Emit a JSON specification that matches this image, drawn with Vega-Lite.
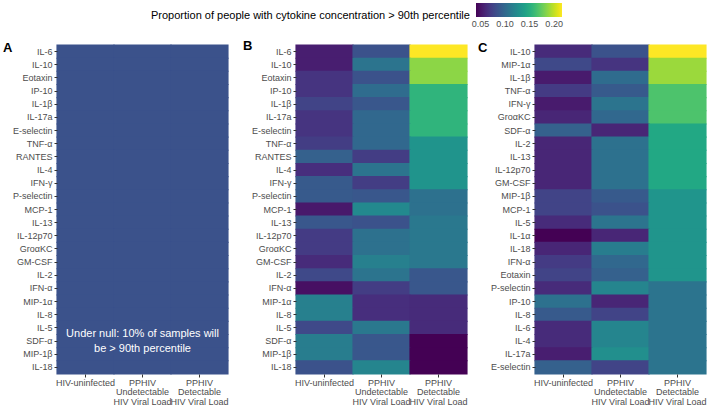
{
  "$schema": "https://vega.github.io/schema/vega-lite/v6.json",
  "padding": {"left": 3, "top": 3, "right": 1, "bottom": 0},
  "bounds": "flush",
  "spacing": 68,
  "background": "white",
  "config": {
    "font": "Liberation Sans",
    "view": {"stroke": null},
    "axis": {"labelFont": "Liberation Sans", "labelFontSize": 9, "labelColor": "#4d4d4d", "tickColor": "#333333", "tickSize": 3, "domain": false, "grid": false, "labelPadding": 2, "title": null}
  },
  "datasets": {
    "A": [
      {"cytokine": "IL-6", "group": "HIV-uninfected", "p": 0.1}, {"cytokine": "IL-6", "group": "PPHIV Undetectable HIV Viral Load", "p": 0.1}, {"cytokine": "IL-6", "group": "PPHIV Detectable HIV Viral Load", "p": 0.1},
      {"cytokine": "IL-10", "group": "HIV-uninfected", "p": 0.1}, {"cytokine": "IL-10", "group": "PPHIV Undetectable HIV Viral Load", "p": 0.1}, {"cytokine": "IL-10", "group": "PPHIV Detectable HIV Viral Load", "p": 0.1},
      {"cytokine": "Eotaxin", "group": "HIV-uninfected", "p": 0.1}, {"cytokine": "Eotaxin", "group": "PPHIV Undetectable HIV Viral Load", "p": 0.1}, {"cytokine": "Eotaxin", "group": "PPHIV Detectable HIV Viral Load", "p": 0.1},
      {"cytokine": "IP-10", "group": "HIV-uninfected", "p": 0.1}, {"cytokine": "IP-10", "group": "PPHIV Undetectable HIV Viral Load", "p": 0.1}, {"cytokine": "IP-10", "group": "PPHIV Detectable HIV Viral Load", "p": 0.1},
      {"cytokine": "IL-1β", "group": "HIV-uninfected", "p": 0.1}, {"cytokine": "IL-1β", "group": "PPHIV Undetectable HIV Viral Load", "p": 0.1}, {"cytokine": "IL-1β", "group": "PPHIV Detectable HIV Viral Load", "p": 0.1},
      {"cytokine": "IL-17a", "group": "HIV-uninfected", "p": 0.1}, {"cytokine": "IL-17a", "group": "PPHIV Undetectable HIV Viral Load", "p": 0.1}, {"cytokine": "IL-17a", "group": "PPHIV Detectable HIV Viral Load", "p": 0.1},
      {"cytokine": "E-selectin", "group": "HIV-uninfected", "p": 0.1}, {"cytokine": "E-selectin", "group": "PPHIV Undetectable HIV Viral Load", "p": 0.1}, {"cytokine": "E-selectin", "group": "PPHIV Detectable HIV Viral Load", "p": 0.1},
      {"cytokine": "TNF-α", "group": "HIV-uninfected", "p": 0.1}, {"cytokine": "TNF-α", "group": "PPHIV Undetectable HIV Viral Load", "p": 0.1}, {"cytokine": "TNF-α", "group": "PPHIV Detectable HIV Viral Load", "p": 0.1},
      {"cytokine": "RANTES", "group": "HIV-uninfected", "p": 0.1}, {"cytokine": "RANTES", "group": "PPHIV Undetectable HIV Viral Load", "p": 0.1}, {"cytokine": "RANTES", "group": "PPHIV Detectable HIV Viral Load", "p": 0.1},
      {"cytokine": "IL-4", "group": "HIV-uninfected", "p": 0.1}, {"cytokine": "IL-4", "group": "PPHIV Undetectable HIV Viral Load", "p": 0.1}, {"cytokine": "IL-4", "group": "PPHIV Detectable HIV Viral Load", "p": 0.1},
      {"cytokine": "IFN-γ", "group": "HIV-uninfected", "p": 0.1}, {"cytokine": "IFN-γ", "group": "PPHIV Undetectable HIV Viral Load", "p": 0.1}, {"cytokine": "IFN-γ", "group": "PPHIV Detectable HIV Viral Load", "p": 0.1},
      {"cytokine": "P-selectin", "group": "HIV-uninfected", "p": 0.1}, {"cytokine": "P-selectin", "group": "PPHIV Undetectable HIV Viral Load", "p": 0.1}, {"cytokine": "P-selectin", "group": "PPHIV Detectable HIV Viral Load", "p": 0.1},
      {"cytokine": "MCP-1", "group": "HIV-uninfected", "p": 0.1}, {"cytokine": "MCP-1", "group": "PPHIV Undetectable HIV Viral Load", "p": 0.1}, {"cytokine": "MCP-1", "group": "PPHIV Detectable HIV Viral Load", "p": 0.1},
      {"cytokine": "IL-13", "group": "HIV-uninfected", "p": 0.1}, {"cytokine": "IL-13", "group": "PPHIV Undetectable HIV Viral Load", "p": 0.1}, {"cytokine": "IL-13", "group": "PPHIV Detectable HIV Viral Load", "p": 0.1},
      {"cytokine": "IL-12p70", "group": "HIV-uninfected", "p": 0.1}, {"cytokine": "IL-12p70", "group": "PPHIV Undetectable HIV Viral Load", "p": 0.1}, {"cytokine": "IL-12p70", "group": "PPHIV Detectable HIV Viral Load", "p": 0.1},
      {"cytokine": "GroαKC", "group": "HIV-uninfected", "p": 0.1}, {"cytokine": "GroαKC", "group": "PPHIV Undetectable HIV Viral Load", "p": 0.1}, {"cytokine": "GroαKC", "group": "PPHIV Detectable HIV Viral Load", "p": 0.1},
      {"cytokine": "GM-CSF", "group": "HIV-uninfected", "p": 0.1}, {"cytokine": "GM-CSF", "group": "PPHIV Undetectable HIV Viral Load", "p": 0.1}, {"cytokine": "GM-CSF", "group": "PPHIV Detectable HIV Viral Load", "p": 0.1},
      {"cytokine": "IL-2", "group": "HIV-uninfected", "p": 0.1}, {"cytokine": "IL-2", "group": "PPHIV Undetectable HIV Viral Load", "p": 0.1}, {"cytokine": "IL-2", "group": "PPHIV Detectable HIV Viral Load", "p": 0.1},
      {"cytokine": "IFN-α", "group": "HIV-uninfected", "p": 0.1}, {"cytokine": "IFN-α", "group": "PPHIV Undetectable HIV Viral Load", "p": 0.1}, {"cytokine": "IFN-α", "group": "PPHIV Detectable HIV Viral Load", "p": 0.1},
      {"cytokine": "MIP-1α", "group": "HIV-uninfected", "p": 0.1}, {"cytokine": "MIP-1α", "group": "PPHIV Undetectable HIV Viral Load", "p": 0.1}, {"cytokine": "MIP-1α", "group": "PPHIV Detectable HIV Viral Load", "p": 0.1},
      {"cytokine": "IL-8", "group": "HIV-uninfected", "p": 0.1}, {"cytokine": "IL-8", "group": "PPHIV Undetectable HIV Viral Load", "p": 0.1}, {"cytokine": "IL-8", "group": "PPHIV Detectable HIV Viral Load", "p": 0.1},
      {"cytokine": "IL-5", "group": "HIV-uninfected", "p": 0.1}, {"cytokine": "IL-5", "group": "PPHIV Undetectable HIV Viral Load", "p": 0.1}, {"cytokine": "IL-5", "group": "PPHIV Detectable HIV Viral Load", "p": 0.1},
      {"cytokine": "SDF-α", "group": "HIV-uninfected", "p": 0.1}, {"cytokine": "SDF-α", "group": "PPHIV Undetectable HIV Viral Load", "p": 0.1}, {"cytokine": "SDF-α", "group": "PPHIV Detectable HIV Viral Load", "p": 0.1},
      {"cytokine": "MIP-1β", "group": "HIV-uninfected", "p": 0.1}, {"cytokine": "MIP-1β", "group": "PPHIV Undetectable HIV Viral Load", "p": 0.1}, {"cytokine": "MIP-1β", "group": "PPHIV Detectable HIV Viral Load", "p": 0.1},
      {"cytokine": "IL-18", "group": "HIV-uninfected", "p": 0.1}, {"cytokine": "IL-18", "group": "PPHIV Undetectable HIV Viral Load", "p": 0.1}, {"cytokine": "IL-18", "group": "PPHIV Detectable HIV Viral Load", "p": 0.1}
    ],
    "B": [
      {"cytokine": "IL-6", "group": "HIV-uninfected", "p": 0.055}, {"cytokine": "IL-6", "group": "PPHIV Undetectable HIV Viral Load", "p": 0.085}, {"cytokine": "IL-6", "group": "PPHIV Detectable HIV Viral Load", "p": 0.216},
      {"cytokine": "IL-10", "group": "HIV-uninfected", "p": 0.055}, {"cytokine": "IL-10", "group": "PPHIV Undetectable HIV Viral Load", "p": 0.108}, {"cytokine": "IL-10", "group": "PPHIV Detectable HIV Viral Load", "p": 0.186},
      {"cytokine": "Eotaxin", "group": "HIV-uninfected", "p": 0.067}, {"cytokine": "Eotaxin", "group": "PPHIV Undetectable HIV Viral Load", "p": 0.085}, {"cytokine": "Eotaxin", "group": "PPHIV Detectable HIV Viral Load", "p": 0.186},
      {"cytokine": "IP-10", "group": "HIV-uninfected", "p": 0.067}, {"cytokine": "IP-10", "group": "PPHIV Undetectable HIV Viral Load", "p": 0.102}, {"cytokine": "IP-10", "group": "PPHIV Detectable HIV Viral Load", "p": 0.155},
      {"cytokine": "IL-1β", "group": "HIV-uninfected", "p": 0.076}, {"cytokine": "IL-1β", "group": "PPHIV Undetectable HIV Viral Load", "p": 0.088}, {"cytokine": "IL-1β", "group": "PPHIV Detectable HIV Viral Load", "p": 0.155},
      {"cytokine": "IL-17a", "group": "HIV-uninfected", "p": 0.067}, {"cytokine": "IL-17a", "group": "PPHIV Undetectable HIV Viral Load", "p": 0.099}, {"cytokine": "IL-17a", "group": "PPHIV Detectable HIV Viral Load", "p": 0.155},
      {"cytokine": "E-selectin", "group": "HIV-uninfected", "p": 0.067}, {"cytokine": "E-selectin", "group": "PPHIV Undetectable HIV Viral Load", "p": 0.099}, {"cytokine": "E-selectin", "group": "PPHIV Detectable HIV Viral Load", "p": 0.155},
      {"cytokine": "TNF-α", "group": "HIV-uninfected", "p": 0.072}, {"cytokine": "TNF-α", "group": "PPHIV Undetectable HIV Viral Load", "p": 0.099}, {"cytokine": "TNF-α", "group": "PPHIV Detectable HIV Viral Load", "p": 0.131},
      {"cytokine": "RANTES", "group": "HIV-uninfected", "p": 0.094}, {"cytokine": "RANTES", "group": "PPHIV Undetectable HIV Viral Load", "p": 0.072}, {"cytokine": "RANTES", "group": "PPHIV Detectable HIV Viral Load", "p": 0.131},
      {"cytokine": "IL-4", "group": "HIV-uninfected", "p": 0.064}, {"cytokine": "IL-4", "group": "PPHIV Undetectable HIV Viral Load", "p": 0.108}, {"cytokine": "IL-4", "group": "PPHIV Detectable HIV Viral Load", "p": 0.131},
      {"cytokine": "IFN-γ", "group": "HIV-uninfected", "p": 0.09}, {"cytokine": "IFN-γ", "group": "PPHIV Undetectable HIV Viral Load", "p": 0.072}, {"cytokine": "IFN-γ", "group": "PPHIV Detectable HIV Viral Load", "p": 0.131},
      {"cytokine": "P-selectin", "group": "HIV-uninfected", "p": 0.09}, {"cytokine": "P-selectin", "group": "PPHIV Undetectable HIV Viral Load", "p": 0.088}, {"cytokine": "P-selectin", "group": "PPHIV Detectable HIV Viral Load", "p": 0.106},
      {"cytokine": "MCP-1", "group": "HIV-uninfected", "p": 0.052}, {"cytokine": "MCP-1", "group": "PPHIV Undetectable HIV Viral Load", "p": 0.123}, {"cytokine": "MCP-1", "group": "PPHIV Detectable HIV Viral Load", "p": 0.106},
      {"cytokine": "IL-13", "group": "HIV-uninfected", "p": 0.088}, {"cytokine": "IL-13", "group": "PPHIV Undetectable HIV Viral Load", "p": 0.085}, {"cytokine": "IL-13", "group": "PPHIV Detectable HIV Viral Load", "p": 0.111},
      {"cytokine": "IL-12p70", "group": "HIV-uninfected", "p": 0.071}, {"cytokine": "IL-12p70", "group": "PPHIV Undetectable HIV Viral Load", "p": 0.106}, {"cytokine": "IL-12p70", "group": "PPHIV Detectable HIV Viral Load", "p": 0.111},
      {"cytokine": "GroαKC", "group": "HIV-uninfected", "p": 0.071}, {"cytokine": "GroαKC", "group": "PPHIV Undetectable HIV Viral Load", "p": 0.106}, {"cytokine": "GroαKC", "group": "PPHIV Detectable HIV Viral Load", "p": 0.111},
      {"cytokine": "GM-CSF", "group": "HIV-uninfected", "p": 0.062}, {"cytokine": "GM-CSF", "group": "PPHIV Undetectable HIV Viral Load", "p": 0.116}, {"cytokine": "GM-CSF", "group": "PPHIV Detectable HIV Viral Load", "p": 0.111},
      {"cytokine": "IL-2", "group": "HIV-uninfected", "p": 0.079}, {"cytokine": "IL-2", "group": "PPHIV Undetectable HIV Viral Load", "p": 0.108}, {"cytokine": "IL-2", "group": "PPHIV Detectable HIV Viral Load", "p": 0.088},
      {"cytokine": "IFN-α", "group": "HIV-uninfected", "p": 0.048}, {"cytokine": "IFN-α", "group": "PPHIV Undetectable HIV Viral Load", "p": 0.072}, {"cytokine": "IFN-α", "group": "PPHIV Detectable HIV Viral Load", "p": 0.088},
      {"cytokine": "MIP-1α", "group": "HIV-uninfected", "p": 0.116}, {"cytokine": "MIP-1α", "group": "PPHIV Undetectable HIV Viral Load", "p": 0.064}, {"cytokine": "MIP-1α", "group": "PPHIV Detectable HIV Viral Load", "p": 0.062},
      {"cytokine": "IL-8", "group": "HIV-uninfected", "p": 0.116}, {"cytokine": "IL-8", "group": "PPHIV Undetectable HIV Viral Load", "p": 0.064}, {"cytokine": "IL-8", "group": "PPHIV Detectable HIV Viral Load", "p": 0.062},
      {"cytokine": "IL-5", "group": "HIV-uninfected", "p": 0.079}, {"cytokine": "IL-5", "group": "PPHIV Undetectable HIV Viral Load", "p": 0.111}, {"cytokine": "IL-5", "group": "PPHIV Detectable HIV Viral Load", "p": 0.062},
      {"cytokine": "SDF-α", "group": "HIV-uninfected", "p": 0.114}, {"cytokine": "SDF-α", "group": "PPHIV Undetectable HIV Viral Load", "p": 0.088}, {"cytokine": "SDF-α", "group": "PPHIV Detectable HIV Viral Load", "p": 0.041},
      {"cytokine": "MIP-1β", "group": "HIV-uninfected", "p": 0.114}, {"cytokine": "MIP-1β", "group": "PPHIV Undetectable HIV Viral Load", "p": 0.088}, {"cytokine": "MIP-1β", "group": "PPHIV Detectable HIV Viral Load", "p": 0.041},
      {"cytokine": "IL-18", "group": "HIV-uninfected", "p": 0.085}, {"cytokine": "IL-18", "group": "PPHIV Undetectable HIV Viral Load", "p": 0.12}, {"cytokine": "IL-18", "group": "PPHIV Detectable HIV Viral Load", "p": 0.041}
    ],
    "C": [
      {"cytokine": "IL-10", "group": "HIV-uninfected", "p": 0.062}, {"cytokine": "IL-10", "group": "PPHIV Undetectable HIV Viral Load", "p": 0.085}, {"cytokine": "IL-10", "group": "PPHIV Detectable HIV Viral Load", "p": 0.216},
      {"cytokine": "MIP-1α", "group": "HIV-uninfected", "p": 0.079}, {"cytokine": "MIP-1α", "group": "PPHIV Undetectable HIV Viral Load", "p": 0.067}, {"cytokine": "MIP-1α", "group": "PPHIV Detectable HIV Viral Load", "p": 0.19},
      {"cytokine": "IL-1β", "group": "HIV-uninfected", "p": 0.053}, {"cytokine": "IL-1β", "group": "PPHIV Undetectable HIV Viral Load", "p": 0.102}, {"cytokine": "IL-1β", "group": "PPHIV Detectable HIV Viral Load", "p": 0.19},
      {"cytokine": "TNF-α", "group": "HIV-uninfected", "p": 0.071}, {"cytokine": "TNF-α", "group": "PPHIV Undetectable HIV Viral Load", "p": 0.09}, {"cytokine": "TNF-α", "group": "PPHIV Detectable HIV Viral Load", "p": 0.167},
      {"cytokine": "IFN-γ", "group": "HIV-uninfected", "p": 0.053}, {"cytokine": "IFN-γ", "group": "PPHIV Undetectable HIV Viral Load", "p": 0.108}, {"cytokine": "IFN-γ", "group": "PPHIV Detectable HIV Viral Load", "p": 0.167},
      {"cytokine": "GroαKC", "group": "HIV-uninfected", "p": 0.059}, {"cytokine": "GroαKC", "group": "PPHIV Undetectable HIV Viral Load", "p": 0.099}, {"cytokine": "GroαKC", "group": "PPHIV Detectable HIV Viral Load", "p": 0.167},
      {"cytokine": "SDF-α", "group": "HIV-uninfected", "p": 0.094}, {"cytokine": "SDF-α", "group": "PPHIV Undetectable HIV Viral Load", "p": 0.059}, {"cytokine": "SDF-α", "group": "PPHIV Detectable HIV Viral Load", "p": 0.146},
      {"cytokine": "IL-2", "group": "HIV-uninfected", "p": 0.059}, {"cytokine": "IL-2", "group": "PPHIV Undetectable HIV Viral Load", "p": 0.106}, {"cytokine": "IL-2", "group": "PPHIV Detectable HIV Viral Load", "p": 0.146},
      {"cytokine": "IL-13", "group": "HIV-uninfected", "p": 0.059}, {"cytokine": "IL-13", "group": "PPHIV Undetectable HIV Viral Load", "p": 0.106}, {"cytokine": "IL-13", "group": "PPHIV Detectable HIV Viral Load", "p": 0.146},
      {"cytokine": "IL-12p70", "group": "HIV-uninfected", "p": 0.059}, {"cytokine": "IL-12p70", "group": "PPHIV Undetectable HIV Viral Load", "p": 0.106}, {"cytokine": "IL-12p70", "group": "PPHIV Detectable HIV Viral Load", "p": 0.146},
      {"cytokine": "GM-CSF", "group": "HIV-uninfected", "p": 0.059}, {"cytokine": "GM-CSF", "group": "PPHIV Undetectable HIV Viral Load", "p": 0.106}, {"cytokine": "GM-CSF", "group": "PPHIV Detectable HIV Viral Load", "p": 0.146},
      {"cytokine": "MIP-1β", "group": "HIV-uninfected", "p": 0.076}, {"cytokine": "MIP-1β", "group": "PPHIV Undetectable HIV Viral Load", "p": 0.09}, {"cytokine": "MIP-1β", "group": "PPHIV Detectable HIV Viral Load", "p": 0.132},
      {"cytokine": "MCP-1", "group": "HIV-uninfected", "p": 0.076}, {"cytokine": "MCP-1", "group": "PPHIV Undetectable HIV Viral Load", "p": 0.085}, {"cytokine": "MCP-1", "group": "PPHIV Detectable HIV Viral Load", "p": 0.132},
      {"cytokine": "IL-5", "group": "HIV-uninfected", "p": 0.062}, {"cytokine": "IL-5", "group": "PPHIV Undetectable HIV Viral Load", "p": 0.108}, {"cytokine": "IL-5", "group": "PPHIV Detectable HIV Viral Load", "p": 0.132},
      {"cytokine": "IL-1α", "group": "HIV-uninfected", "p": 0.041}, {"cytokine": "IL-1α", "group": "PPHIV Undetectable HIV Viral Load", "p": 0.059}, {"cytokine": "IL-1α", "group": "PPHIV Detectable HIV Viral Load", "p": 0.132},
      {"cytokine": "IL-18", "group": "HIV-uninfected", "p": 0.059}, {"cytokine": "IL-18", "group": "PPHIV Undetectable HIV Viral Load", "p": 0.114}, {"cytokine": "IL-18", "group": "PPHIV Detectable HIV Viral Load", "p": 0.132},
      {"cytokine": "IFN-α", "group": "HIV-uninfected", "p": 0.071}, {"cytokine": "IFN-α", "group": "PPHIV Undetectable HIV Viral Load", "p": 0.099}, {"cytokine": "IFN-α", "group": "PPHIV Detectable HIV Viral Load", "p": 0.132},
      {"cytokine": "Eotaxin", "group": "HIV-uninfected", "p": 0.076}, {"cytokine": "Eotaxin", "group": "PPHIV Undetectable HIV Viral Load", "p": 0.094}, {"cytokine": "Eotaxin", "group": "PPHIV Detectable HIV Viral Load", "p": 0.132},
      {"cytokine": "P-selectin", "group": "HIV-uninfected", "p": 0.062}, {"cytokine": "P-selectin", "group": "PPHIV Undetectable HIV Viral Load", "p": 0.12}, {"cytokine": "P-selectin", "group": "PPHIV Detectable HIV Viral Load", "p": 0.108},
      {"cytokine": "IP-10", "group": "HIV-uninfected", "p": 0.106}, {"cytokine": "IP-10", "group": "PPHIV Undetectable HIV Viral Load", "p": 0.059}, {"cytokine": "IP-10", "group": "PPHIV Detectable HIV Viral Load", "p": 0.108},
      {"cytokine": "IL-8", "group": "HIV-uninfected", "p": 0.09}, {"cytokine": "IL-8", "group": "PPHIV Undetectable HIV Viral Load", "p": 0.076}, {"cytokine": "IL-8", "group": "PPHIV Detectable HIV Viral Load", "p": 0.108},
      {"cytokine": "IL-6", "group": "HIV-uninfected", "p": 0.062}, {"cytokine": "IL-6", "group": "PPHIV Undetectable HIV Viral Load", "p": 0.12}, {"cytokine": "IL-6", "group": "PPHIV Detectable HIV Viral Load", "p": 0.108},
      {"cytokine": "IL-4", "group": "HIV-uninfected", "p": 0.062}, {"cytokine": "IL-4", "group": "PPHIV Undetectable HIV Viral Load", "p": 0.12}, {"cytokine": "IL-4", "group": "PPHIV Detectable HIV Viral Load", "p": 0.108},
      {"cytokine": "IL-17a", "group": "HIV-uninfected", "p": 0.055}, {"cytokine": "IL-17a", "group": "PPHIV Undetectable HIV Viral Load", "p": 0.127}, {"cytokine": "IL-17a", "group": "PPHIV Detectable HIV Viral Load", "p": 0.108},
      {"cytokine": "E-selectin", "group": "HIV-uninfected", "p": 0.094}, {"cytokine": "E-selectin", "group": "PPHIV Undetectable HIV Viral Load", "p": 0.076}, {"cytokine": "E-selectin", "group": "PPHIV Detectable HIV Viral Load", "p": 0.108}
    ]
  },
  "hconcat": [
    {
      "width": 171, "height": 329,
      "title": {"text": "A", "anchor": "start", "frame": "group", "fontSize": 13, "fontWeight": "bold", "color": "black", "offset": 0, "baseline": "alphabetic", "dx": -54, "dy": 21},
      "data": {"name": "A"},
      "layer": [
        {
          "mark": {"type": "rect", "width": {"band": 1.02}, "height": {"band": 1.08}},
          "encoding": {
            "x": {"field": "group", "type": "nominal", "sort": null, "scale": {"paddingInner": 0, "paddingOuter": 0},
                  "axis": {"labelAngle": 0, "labelBaseline": "top", "labelLineHeight": 9.5, "labelPadding": 1, "labelExpr": "datum.value == 'HIV-uninfected' ? datum.value : split(replace(replace(datum.value, 'PPHIV ', 'PPHIV|'), ' HIV Viral', '|HIV Viral'), '|')"}},
            "y": {"field": "cytokine", "type": "nominal", "sort": null, "scale": {"paddingInner": 0, "paddingOuter": 0}},
            "color": {"field": "p", "type": "quantitative", "scale": {"scheme": "viridis", "domain": [0.05, 0.25]}, "legend": null}
          }
        },
        {
          "transform": [{"filter": "datum.cytokine == 'SDF-α' && datum.group == 'PPHIV Undetectable HIV Viral Load'"}],
          "mark": {"type": "text", "color": "white", "fontSize": 11, "lineBreak": "\n", "lineHeight": 15, "baseline": "middle", "align": "center", "dy": -7.5},
          "encoding": {
            "x": {"field": "group", "type": "nominal", "sort": null},
            "y": {"field": "cytokine", "type": "nominal", "sort": null},
            "text": {"value": "Under null: 10% of samples will\nbe > 90th percentile"}
          }
        }
      ]
    },
    {
      "width": 171, "height": 329,
      "title": {"text": "B", "anchor": "start", "frame": "group", "fontSize": 13, "fontWeight": "bold", "color": "black", "offset": 0, "baseline": "alphabetic", "dx": -53, "dy": 60},
      "data": {"name": "B"},
      "mark": {"type": "rect", "width": {"band": 1.02}, "height": {"band": 1.08}},
      "encoding": {
        "x": {"field": "group", "type": "nominal", "sort": null, "scale": {"paddingInner": 0, "paddingOuter": 0},
              "axis": {"labelAngle": 0, "labelBaseline": "top", "labelLineHeight": 9.5, "labelPadding": 1, "labelExpr": "datum.value == 'HIV-uninfected' ? datum.value : split(replace(replace(datum.value, 'PPHIV ', 'PPHIV|'), ' HIV Viral', '|HIV Viral'), '|')"}},
        "y": {"field": "cytokine", "type": "nominal", "sort": null, "scale": {"paddingInner": 0, "paddingOuter": 0}},
        "color": {"field": "p", "type": "quantitative", "scale": {"scheme": "viridis", "domain": [0.041, 0.216]},
          "legend": {"type": "gradient", "orient": "none", "legendX": -145, "legendY": -42, "direction": "horizontal",
            "title": "Proportion of people with cytokine concentration > 90th percentile",
            "titleOrient": "left", "titleAnchor": "middle", "titleBaseline": "top", "titleLimit": 400, "titleFontSize": 11, "titleFontWeight": "normal", "titleColor": "black", "titleFont": "Liberation Sans", "titlePadding": 6,
            "gradientLength": 86, "gradientThickness": 14, "gradientStrokeWidth": 0,
            "values": [0.05, 0.1, 0.15, 0.2], "format": ".2f", "labelFontSize": 9, "labelColor": "#4d4d4d", "labelFont": "Liberation Sans", "labelOffset": 3}}
      }
    },
    {
      "width": 171, "height": 329,
      "title": {"text": "C", "anchor": "start", "frame": "group", "fontSize": 13, "fontWeight": "bold", "color": "black", "offset": 0, "baseline": "alphabetic", "dx": -57, "dy": 21},
      "data": {"name": "C"},
      "mark": {"type": "rect", "width": {"band": 1.02}, "height": {"band": 1.08}},
      "encoding": {
        "x": {"field": "group", "type": "nominal", "sort": null, "scale": {"paddingInner": 0, "paddingOuter": 0},
              "axis": {"labelAngle": 0, "labelBaseline": "top", "labelLineHeight": 9.5, "labelPadding": 1, "labelExpr": "datum.value == 'HIV-uninfected' ? datum.value : split(replace(replace(datum.value, 'PPHIV ', 'PPHIV|'), ' HIV Viral', '|HIV Viral'), '|')"}},
        "y": {"field": "cytokine", "type": "nominal", "sort": null, "scale": {"paddingInner": 0, "paddingOuter": 0}},
        "color": {"field": "p", "type": "quantitative", "scale": {"scheme": "viridis", "domain": [0.041, 0.216]}, "legend": null}
      }
    }
  ],
  "resolve": {"scale": {"x": "independent", "y": "independent", "color": "independent"}, "legend": {"color": "independent"}}
}
